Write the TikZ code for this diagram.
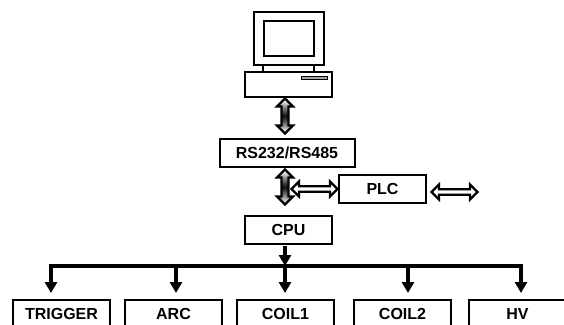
\documentclass[tikz,border=0pt]{standalone}
\usepackage{fontspec}
\setmainfont{Liberation Sans}
\usetikzlibrary{arrows.meta,shapes.arrows}
\pgfdeclareverticalshading{dblshade}{100bp}{color(0bp)=(white);color(27bp)=(white);color(38bp)=(black!50);color(50bp)=(black!95);color(62bp)=(black!50);color(73bp)=(white);color(100bp)=(white)}
\tikzset{
  x=1pt,y=-1pt,
  boxnode/.style={draw=black,line width=2pt,fill=white,inner sep=0pt,font=\fontsize{16}{18}\selectfont\bfseries,anchor=center},
  pc/.style={draw=black,line width=2pt,fill=white,rectangle,inner sep=0pt},
  dblvert/.style={shape=double arrow,draw=black,line width=2.2pt,inner sep=0pt,minimum width=16pt,double arrow head extend=1.4pt,double arrow tip angle=90,rotate=90,shading=dblshade},
  dblhorz/.style={shape=double arrow,draw=black,line width=2.2pt,fill=white,inner sep=0pt,minimum width=15pt,double arrow head extend=2pt,double arrow tip angle=90},
  busline/.style={draw=black,line width=4pt},
  drop/.style={busline,-{Triangle[width=12pt,length=11pt]},shorten >=6pt},
}
\begin{document}
\begin{tikzpicture}
\useasboundingbox (0,0) rectangle (564,324);
\clip (0,0) rectangle (564,324);
% computer
\node[pc,minimum width=70pt,minimum height=53pt] (monitor) at (288.5,38.5) {};
\node[pc,minimum width=50pt,minimum height=35pt] (screen) at (288.5,38.5) {};
\node[pc,minimum width=87pt,minimum height=25pt] (base) at (288.5,84.5) {};
\node[draw=black,line width=1pt,fill=black!35,rectangle,inner sep=0pt,minimum width=26pt,minimum height=3pt] (slot) at (314,77.5) {};
\draw[line width=2pt] (263,65) -- (263,72);
\draw[line width=2pt] (314,65) -- (314,72);
% boxes
\node[boxnode,minimum width=135pt,minimum height=28pt] (rs) at (287,152.5) {RS232/RS485};
\node[boxnode,minimum width=87pt,minimum height=28pt] (plc) at (382.5,189) {PLC};
\node[boxnode,minimum width=87pt,minimum height=28pt] (cpu) at (288.5,230) {CPU};
\node[boxnode,minimum width=97pt,minimum height=28pt] (trig) at (61.5,314) {TRIGGER};
\node[boxnode,minimum width=97pt,minimum height=28pt] (arc) at (173.5,314) {ARC};
\node[boxnode,minimum width=97pt,minimum height=28pt] (coila) at (285.5,314) {COIL1};
\node[boxnode,minimum width=97pt,minimum height=28pt] (coilb) at (402.5,314) {COIL2};
\node[boxnode,minimum width=97pt,minimum height=28pt] (hv) at (517.5,314) {HV};
% block arrows
\node[dblvert,minimum height=35pt] (a1) at (285,116) {};
\node[dblvert,minimum height=35pt] (a2) at (285,187) {};
\node[dblhorz,minimum height=46pt] (a3) at (314.5,189) {};
\node[dblhorz,minimum height=46pt] (a4) at (454.5,192) {};
% bus
\coordinate (b1) at (51,266);
\coordinate (b2) at (176,266);
\coordinate (b3) at (285,266);
\coordinate (b4) at (408,266);
\coordinate (b5) at (521,266);
\draw[busline,line cap=rect] (b1) -- (b5);
\draw[drop] (b1) -- (b1 |- trig.north);
\draw[drop] (b2) -- (b2 |- arc.north);
\draw[drop] (b3) -- (b3 |- coila.north);
\draw[drop] (b4) -- (b4 |- coilb.north);
\draw[drop] (b5) -- (b5 |- hv.north);
\draw[busline,-{Triangle[width=12pt,length=11pt]},shorten <=1pt] (b3 |- cpu.south) -- (b3);
\end{tikzpicture}
\end{document}
